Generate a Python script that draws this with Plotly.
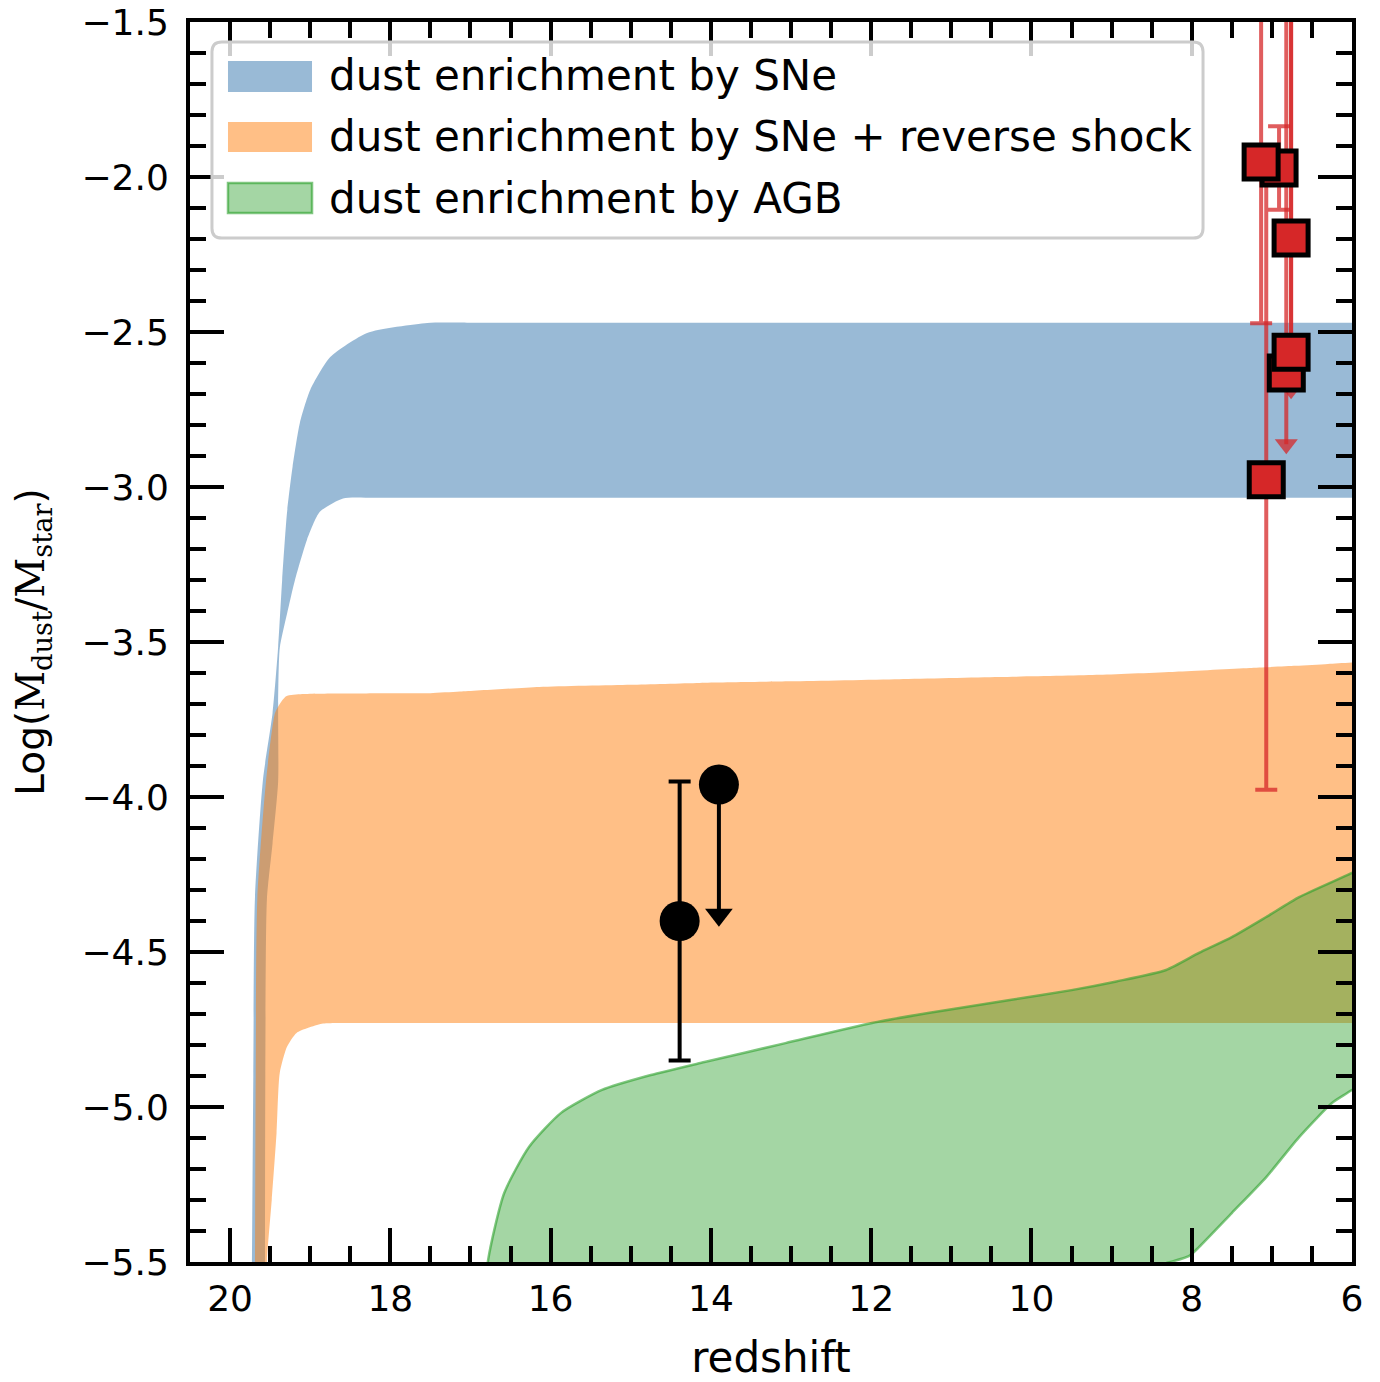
import plotly.graph_objects as go

# ---- model bands (edge coordinates) ----
# dust enrichment by SNe
sne_up_z = [19.73, 19.71, 19.69, 19.59, 19.47, 19.40, 19.35, 19.29, 19.22, 19.13, 19.00, 18.75, 18.29,
            17.54, 17.0, 16.0, 14.5, 12.5, 10.5, 8.5, 7.2, 6.6, 6.2, 5.9, 5.6]
sne_up_v = [-5.6, -4.9, -4.33, -3.945, -3.73, -3.516, -3.30, -3.084, -2.935, -2.794, -2.687, -2.581, -2.503,
            -2.471, -2.47, -2.47, -2.47, -2.47, -2.47, -2.47, -2.47, -2.47, -2.47, -2.47, -2.47]
sne_lo_z = [5.6, 5.9, 6.2, 6.6, 7.2, 8.5, 10.0, 11.5, 13.0, 15.0, 16.5, 17.5, 18.2, 18.59, 18.88, 19.04,
            19.19, 19.29, 19.38, 19.40, 19.40, 19.47, 19.54, 19.56, 19.565]
sne_lo_v = [-3.035, -3.035, -3.035, -3.035, -3.035, -3.035, -3.035, -3.035, -3.035, -3.035, -3.035, -3.035,
            -3.035, -3.037, -3.08, -3.17, -3.30, -3.41, -3.52, -3.70, -3.95, -4.15, -4.33, -4.9, -5.6]

# dust enrichment by SNe + reverse shock
rs_up_z = [19.69, 19.68, 19.66, 19.55, 19.44, 19.38, 19.30, 19.10, 18.6, 18.0, 17.5, 17.13, 16.14, 15.0,
           14.14, 13.0, 11.65, 10.4, 9.15, 8.2, 7.28, 6.7, 6.3, 5.9, 5.6]
rs_up_v = [-5.6, -4.9, -4.33, -3.945, -3.73, -3.70, -3.675, -3.668, -3.666, -3.665, -3.665, -3.66, -3.645,
           -3.638, -3.632, -3.627, -3.62, -3.613, -3.606, -3.596, -3.584, -3.577, -3.571, -3.565, -3.561]
rs_lo_z = [5.6, 5.9, 6.3, 6.8, 7.5, 9.0, 11.0, 13.0, 14.5, 16.0, 17.0, 17.8, 18.4, 18.84, 19.17, 19.29,
           19.38, 19.42, 19.48, 19.54, 19.55]
rs_lo_v = [-4.729, -4.729, -4.729, -4.729, -4.729, -4.729, -4.729, -4.729, -4.729, -4.729, -4.729, -4.729,
           -4.729, -4.731, -4.761, -4.806, -4.89, -5.084, -5.30, -5.494, -5.6]

# dust enrichment by AGB
agb_up_z = [16.85, 16.78, 16.58, 16.27, 15.87, 15.36, 14.75, 14.08, 13.07, 11.99, 11.29, 10.27, 9.50, 8.94,
            8.32, 7.91, 7.50, 7.07, 6.66, 6.06, 5.8, 5.6]
agb_up_v = [-5.75, -5.494, -5.278, -5.129, -5.019, -4.945, -4.897, -4.855, -4.794, -4.729, -4.697, -4.655,
            -4.623, -4.595, -4.558, -4.503, -4.452, -4.387, -4.323, -4.252, -4.22, -4.20]
agb_lo_z = [5.6, 5.8, 6.06, 6.25, 6.66, 7.07, 7.50, 7.91, 8.03, 8.40, 9.00, 10.0, 11.5, 13.0, 14.5, 15.8, 16.85]
agb_lo_v = [-4.86, -4.91, -4.955, -4.987, -5.097, -5.226, -5.342, -5.452, -5.48, -5.51, -5.56, -5.62, -5.68,
            -5.72, -5.75, -5.76, -5.76]

# ---- observations ----
black_z = [14.39]
black_v = [-4.40]
black_err = [0.45]
black_lim_z = [13.90]
black_lim_v = [-3.96]
black_lim_len = [0.42]

red_z = [6.91, 7.134, 6.76, 6.82, 6.76, 7.07]
red_v = [-1.971, -1.952, -2.197, -2.632, -2.565, -2.977]
red_plus = [0.135, 0.6, 0.8, 1.3, 1.3, 1.0]
red_minus = [0.135, 0.52, 0.35, 0.0, 0.0, 1.0]
red_lim_z = [6.82, 6.76]
red_lim_v = [-2.632, -2.565]
red_lim_len = [0.23, 0.12]

labels = ['dust enrichment by SNe',
          'dust enrichment by SNe + reverse shock',
          'dust enrichment by AGB']

blue_fill = 'rgba(70,130,180,0.55)'
orange_fill = 'rgba(255,127,14,0.5)'
green_fill = 'rgba(44,160,44,0.43)'
green_line = 'rgba(44,160,44,0.6)'
red = '#d62728'
red_err = 'rgba(214,39,40,0.75)'

fig = go.Figure()

fig.add_trace(go.Scatter(x=sne_up_z + sne_lo_z, y=sne_up_v + sne_lo_v, mode='lines',
                         fill='toself', fillcolor=blue_fill, line=dict(width=0, shape='spline', smoothing=0.6),
                         name=labels[0], showlegend=False, hoverinfo='skip'))
fig.add_trace(go.Scatter(x=rs_up_z + rs_lo_z, y=rs_up_v + rs_lo_v, mode='lines',
                         fill='toself', fillcolor=orange_fill, line=dict(width=0, shape='spline', smoothing=0.6),
                         name=labels[1], showlegend=False, hoverinfo='skip'))
fig.add_trace(go.Scatter(x=agb_up_z + agb_lo_z, y=agb_up_v + agb_lo_v, mode='lines',
                         fill='toself', fillcolor=green_fill,
                         line=dict(width=2.5, color=green_line, shape='spline', smoothing=0.6),
                         name=labels[2], showlegend=False, hoverinfo='skip'))

# black points
fig.add_trace(go.Scatter(x=black_lim_z, y=black_lim_v, mode='markers',
                         marker=dict(size=1, color='rgba(0,0,0,0)'),
                         error_y=dict(type='data', symmetric=False, array=[0] * len(black_lim_z),
                                      arrayminus=black_lim_len, width=0, thickness=4, color='black'),
                         showlegend=False))
fig.add_trace(go.Scatter(x=black_lim_z, y=[v - l for v, l in zip(black_lim_v, black_lim_len)],
                         mode='markers', marker=dict(symbol='triangle-down', size=24, color='black'),
                         showlegend=False))
fig.add_trace(go.Scatter(x=black_z, y=black_v, mode='markers',
                         marker=dict(size=40, color='black'),
                         error_y=dict(type='data', array=black_err, width=11, thickness=4, color='black'),
                         showlegend=False))
fig.add_trace(go.Scatter(x=black_lim_z, y=black_lim_v, mode='markers',
                         marker=dict(size=40, color='black'), showlegend=False))

# red points
fig.add_trace(go.Scatter(x=red_lim_z, y=red_lim_v, mode='markers',
                         marker=dict(size=1, color='rgba(0,0,0,0)'),
                         error_y=dict(type='data', symmetric=False, array=[0] * len(red_lim_z),
                                      arrayminus=red_lim_len, width=0, thickness=4, color=red_err),
                         showlegend=False))
fig.add_trace(go.Scatter(x=red_lim_z, y=[v - l for v, l in zip(red_lim_v, red_lim_len)],
                         mode='markers', marker=dict(symbol='triangle-down', size=20, color=red_err),
                         showlegend=False))
fig.add_trace(go.Scatter(x=red_z, y=red_v, mode='markers',
                         marker=dict(symbol='square', size=34, color=red, line=dict(width=5, color='black')),
                         error_y=dict(type='data', symmetric=False, array=red_plus, arrayminus=red_minus,
                                      width=11, thickness=4, color=red_err),
                         showlegend=False))

# legend drawn by hand so the patches match the original size
lx0, lx1, ly0, ly1, r = 0.0189, 0.8718, 0.8258, 0.9839, 0.0085
ry = r * 1162 / 1240
legend_path = (f'M {lx0 + r},{ly1} L {lx1 - r},{ly1} Q {lx1},{ly1} {lx1},{ly1 - ry} '
               f'L {lx1},{ly0 + ry} Q {lx1},{ly0} {lx1 - r},{ly0} L {lx0 + r},{ly0} '
               f'Q {lx0},{ly0} {lx0},{ly0 + ry} L {lx0},{ly1 - ry} Q {lx0},{ly1} {lx0 + r},{ly1} Z')
shapes = [dict(type='path', xref='paper', yref='paper', path=legend_path,
               fillcolor='rgba(255,255,255,0.8)', line=dict(color='#cccccc', width=3), layer='above')]
patch_y = [(0.9435, 0.9685), (0.8952, 0.9194), (0.8460, 0.8702)]
patch_fill = [blue_fill, orange_fill, green_fill]
patch_line = [dict(width=0), dict(width=0), dict(width=2.5, color=green_line)]
text_y = [0.9565, 0.9073, 0.8580]
annotations = []
for i in range(3):
    shapes.append(dict(type='rect', xref='paper', yref='paper', x0=0.0327, x1=0.105,
                       y0=patch_y[i][0], y1=patch_y[i][1], fillcolor=patch_fill[i],
                       line=patch_line[i], layer='above'))
    annotations.append(dict(xref='paper', yref='paper', x=0.1179, y=text_y[i], text=labels[i],
                            showarrow=False, xanchor='left', yanchor='middle',
                            font=dict(size=42, color='black')))

axis_common = dict(showline=True, linecolor='black', linewidth=4, mirror='ticks',
                   ticks='inside', ticklen=34, tickwidth=4, tickcolor='black', automargin=False,
                   ticklabeloverflow='allow',
                   showgrid=False, zeroline=False, tickfont=dict(size=36, color='black'))

fig.update_layout(
    width=1380, height=1382,
    margin=dict(l=190, r=28, t=22, b=120),
    paper_bgcolor='white', plot_bgcolor='white',
    font=dict(family='DejaVu Sans', color='black'),
    shapes=shapes, annotations=annotations,
    xaxis=dict(range=[20.5, 6], tickvals=[20, 18, 16, 14, 12, 10, 8, 6],
               minor=dict(dtick=0.5, tick0=0, ticks='inside', ticklen=16, tickwidth=4, tickcolor='black'),
               title=dict(text='redshift', font=dict(size=42), standoff=32),
               ticklabelstandoff=2, **axis_common),
    yaxis=dict(range=[-5.5, -1.5], dtick=0.5, tick0=-1.5, tickformat='.1f',
               minor=dict(dtick=0.1, tick0=-1.5, ticks='inside', ticklen=16, tickwidth=4, tickcolor='black'),
               title=dict(text="Log(<span style=\"font-family:'DejaVu Serif'\">M<sub>dust</sub>/M<sub>star</sub></span>)",
                          font=dict(size=39), standoff=26),
               ticklabelstandoff=10, **axis_common),
)

# drop the default 8px page margin so the figure fills the window exactly
fig.write_html("out.html", config={'displayModeBar': False},
               post_script="document.body.style.margin = '0';")
